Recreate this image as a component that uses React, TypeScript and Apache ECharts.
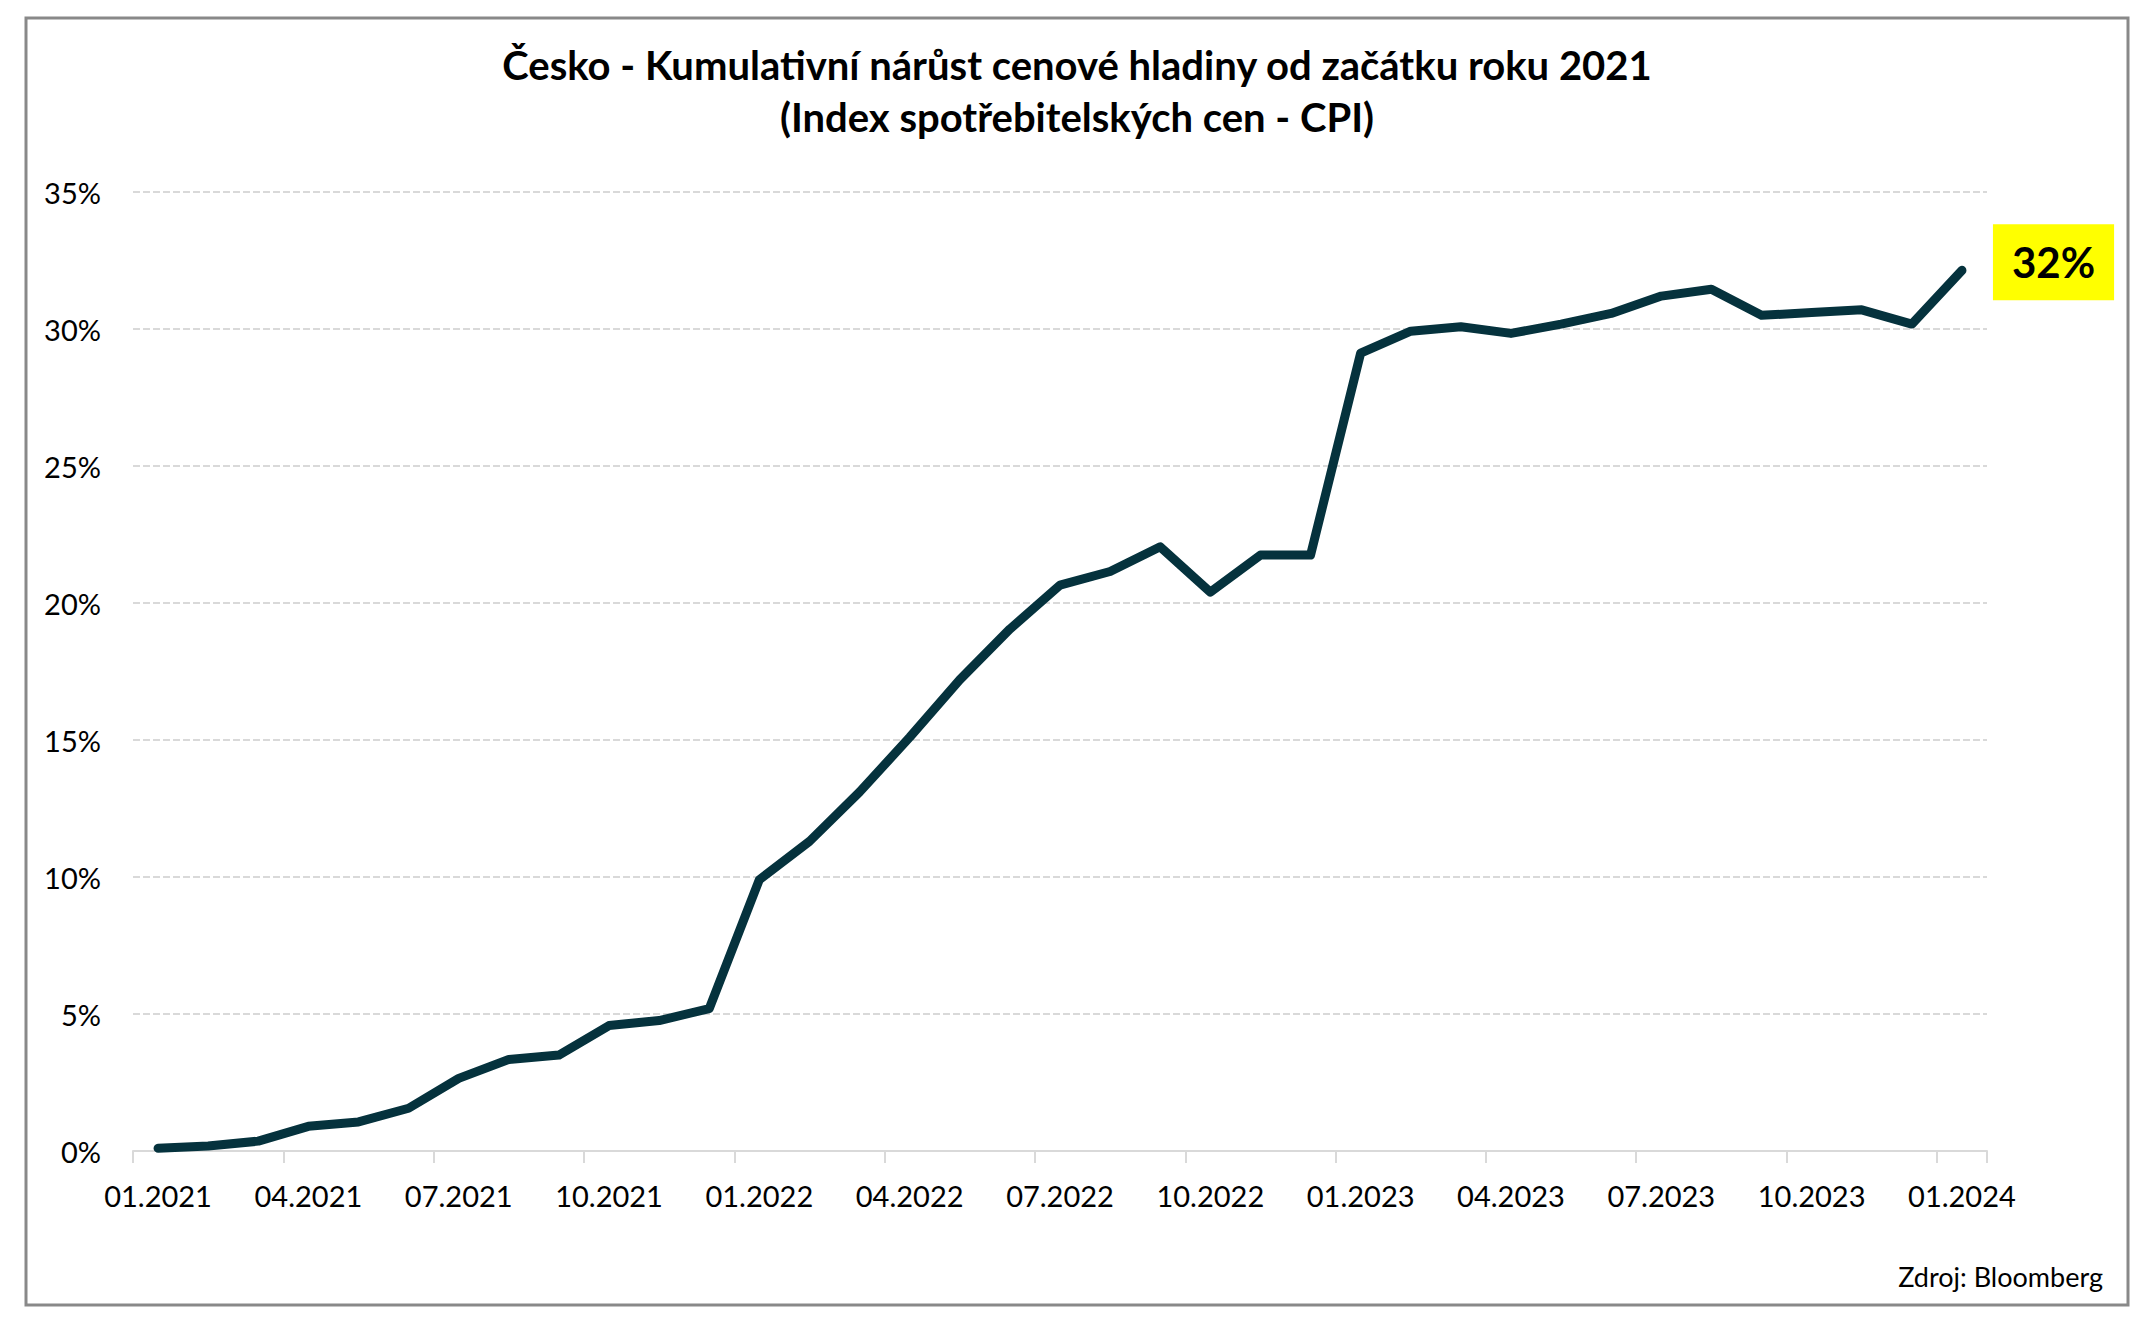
import React, { useEffect, useRef } from "react";
import * as echarts from "echarts";

const months: string[] = [
  "01.2021", "02.2021", "03.2021", "04.2021", "05.2021", "06.2021",
  "07.2021", "08.2021", "09.2021", "10.2021", "11.2021", "12.2021",
  "01.2022", "02.2022", "03.2022", "04.2022", "05.2022", "06.2022",
  "07.2022", "08.2022", "09.2022", "10.2022", "11.2022", "12.2022",
  "01.2023", "02.2023", "03.2023", "04.2023", "05.2023", "06.2023",
  "07.2023", "08.2023", "09.2023", "10.2023", "11.2023", "12.2023",
  "01.2024",
];

const cpiCumulative: number[] = [
  0.1, 0.18, 0.36, 0.9, 1.06, 1.56, 2.65, 3.34, 3.5, 4.58, 4.76, 5.2,
  9.9, 11.3, 13.1, 15.1, 17.2, 19.05, 20.65, 21.15, 22.05, 20.4, 21.75, 21.75,
  29.12, 29.92, 30.08, 29.84, 30.18, 30.57, 31.2, 31.45, 30.5, 30.6, 30.7, 30.18,
  32.14,
];

const titleLines: string[] = [
  "Česko - Kumulativní nárůst cenové hladiny od začátku roku 2021",
  "(Index spotřebitelských cen - CPI)",
];
const sourceText = "Zdroj: Bloomberg";

const FONT = "Lato, 'Noto Sans', sans-serif";

export default function App() {
  const ref = useRef<HTMLDivElement>(null);

  useEffect(() => {
    if (!ref.current) return;
    const chart = echarts.init(ref.current, undefined, { renderer: "svg" });
    const titleStyle = {
      fontFamily: FONT,
      fontSize: 40,
      fontWeight: "bold",
      lineHeight: 46,
      color: "#000000",
    };
    chart.setOption({
      animation: false,
      backgroundColor: "#ffffff",
      textStyle: { fontFamily: FONT },
      title: [
        { text: titleLines[0], left: "center", top: 42, padding: 0, textStyle: titleStyle },
        { text: titleLines[1], left: "center", top: 94, padding: 0, textStyle: titleStyle },
      ],
      grid: { left: 133, right: 167, top: 192, bottom: 167, containLabel: false },
      xAxis: {
        type: "category",
        data: months,
        boundaryGap: true,
        axisLine: { show: true, lineStyle: { color: "#D9D9D9", width: 2 } },
        axisTick: {
          show: true,
          interval: 2,
          alignWithLabel: false,
          length: 12,
          lineStyle: { color: "#D9D9D9", width: 2 },
        },
        axisLabel: {
          interval: 2,
          margin: 30,
          fontSize: 29,
          color: "#000000",
          fontFamily: FONT,
        },
        splitLine: { show: false },
      },
      yAxis: {
        type: "value",
        min: 0,
        max: 35,
        interval: 5,
        axisLine: { show: false },
        axisTick: { show: false },
        axisLabel: {
          formatter: "{value}%",
          margin: 32,
          fontSize: 29,
          color: "#000000",
          fontFamily: FONT,
        },
        splitLine: {
          show: true,
          lineStyle: { color: "#D9D9D9", width: 2, type: [7, 3] },
        },
      },
      series: [
        {
          type: "line",
          data: cpiCumulative,
          symbol: "none",
          smooth: false,
          lineStyle: { color: "#05323D", width: 9, cap: "round", join: "round" },
          endLabel: {
            show: true,
            formatter: (p: any) => Math.round(p.value) + "%",
            distance: 31,
            offset: [0, -8],
            backgroundColor: "#FFFF00",
            padding: [17, 19, 17, 19],
            fontSize: 42,
            lineHeight: 42,
            fontWeight: "bold",
            color: "#000000",
            fontFamily: FONT,
          },
          z: 3,
        },
      ],
      graphic: [
        {
          type: "rect",
          shape: { x: 26, y: 18, width: 2102, height: 1287 },
          style: { fill: "none", stroke: "#898989", lineWidth: 3 },
          z: -1,
          silent: true,
        },
        {
          type: "text",
          right: 51,
          top: 1263,
          style: {
            text: sourceText,
            fontSize: 27,
            fill: "#000000",
            fontFamily: FONT,
          },
        },
      ],
    });
    return () => chart.dispose();
  }, []);

  return (
    <div
      ref={ref}
      style={{ position: "absolute", left: 0, top: 0, width: 2154, height: 1318 }}
    />
  );
}
